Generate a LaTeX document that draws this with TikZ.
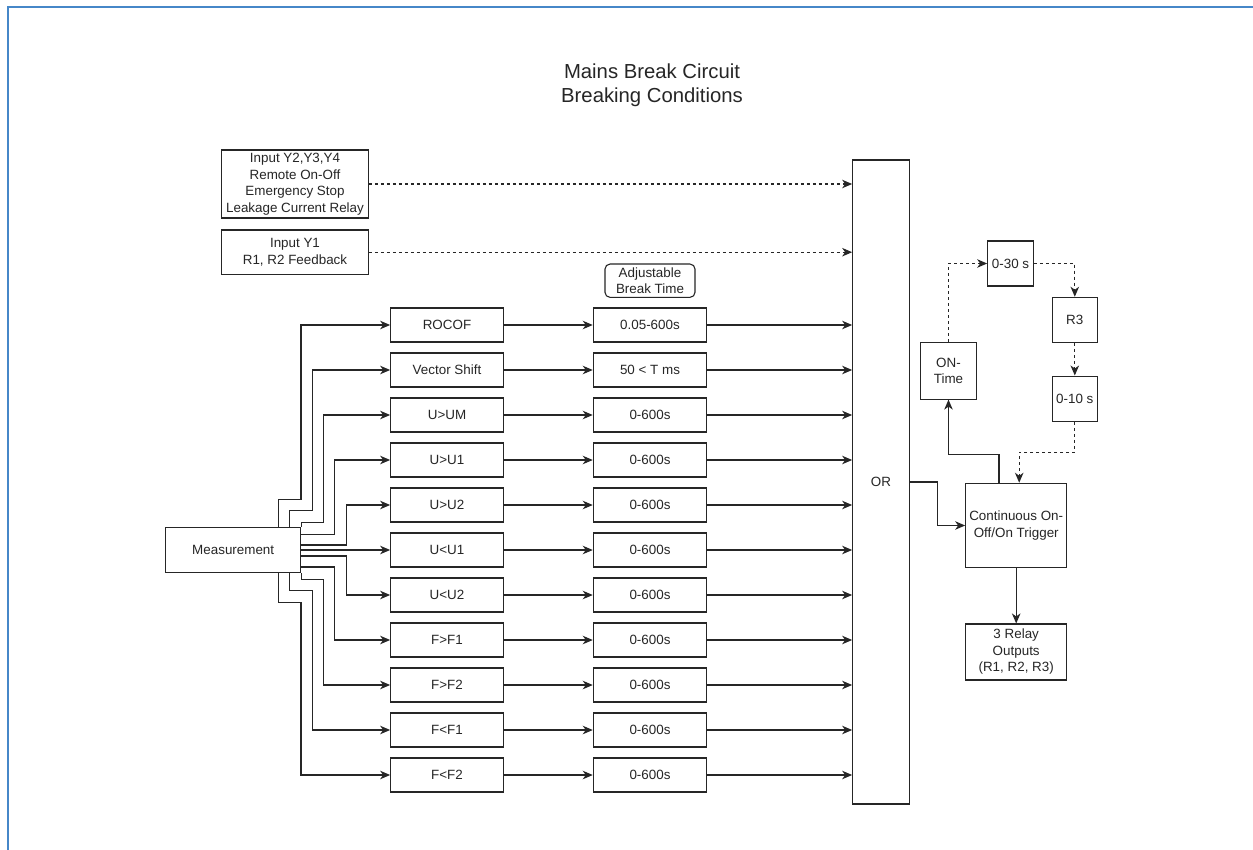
\documentclass[tikz,border=0pt]{standalone}
\usepackage{fontspec}
\setmainfont{Liberation Sans}
\usetikzlibrary{arrows.meta}
\newcommand\mybody{\fontsize{13.4}{16.5}\selectfont}
\begin{document}
\begin{tikzpicture}[x=1pt,y=-1pt,
  box/.style={draw=black!85,line width=1.1pt,inner sep=0pt,align=center,text=black!85,font=\mybody},
  arr/.style={draw=black!85,line width=1.1pt,-{Stealth[length=10pt,width=8.5pt,inset=3pt]}},
  dsh/.style={dash pattern=on 3pt off 3pt},
  frame/.style={draw={rgb,255:red,70;green,135;blue,200},line width=2pt}]
\useasboundingbox (0,0) rectangle (1253,850);
\fill[white] (0,0) rectangle (1253,850);
\draw[frame] (7.5,850) -- (7.5,7.5) -- (1253,7.5);

% title
\node[align=center,text=black!85,font=\fontsize{20.3}{24}\selectfont] (title) at (652,85) {Mains Break Circuit\\Breaking Conditions};

% inputs
\node[box,minimum width=146.6pt,minimum height=68pt] (in2) at (295,184) {Input Y2,Y3,Y4\\Remote On-Off\\Emergency Stop\\Leakage Current Relay};
\node[box,minimum width=146.6pt,minimum height=44.3pt] (in1) at (295,252.2) {Input Y1\\R1, R2 Feedback};

% OR
\node[box,minimum width=56.6pt,minimum height=644pt] (or) at (881,482) {OR};

% adjustable label
\node[box,rounded corners=5pt,minimum width=90pt,minimum height=33.3pt] (adj) at (650,280.7) {Adjustable\\Break Time};

% measurement
\node[box,minimum width=135pt,minimum height=45pt] (m) at (233.2,550) {Measurement};

% rows
\foreach \i/\a/\b in {1/ROCOF/0.05-600s, 2/Vector Shift/50 < T ms, 3/U>UM/0-600s, 4/U>U1/0-600s,
  5/U>U2/0-600s, 6/U<U1/0-600s, 7/U<U2/0-600s, 8/F>F1/0-600s, 9/F>F2/0-600s, 10/F<F1/0-600s, 11/F<F2/0-600s}{
  \node[box,minimum width=112.6pt,minimum height=34pt] (d\i) at (447,280+45*\i) {\a};
  \node[box,minimum width=113.4pt,minimum height=34pt] (t\i) at (650,280+45*\i) {\b};
}
\foreach \i in {1,...,11}{
  \draw[arr] (d\i) -- (t\i);
  \draw[arr] (t\i) -- (t\i -| or.west);
}

% inputs to OR
\draw[arr,dsh] (in2.east) -- (in2.east -| or.west);
\draw[arr,dsh] (in1.east) -- (in1.east -| or.west);

% measurement to detectors
\draw[arr] ([xshift=45.1pt]m.north) -- ++(0,-27.5) -- ++(22.7,0) |- (d1.west);
\draw[arr] ([xshift=56.1pt]m.north) -- ++(0,-16.2) -- ++(23,0) |- (d2.west);
\draw[arr] (m.north east) -- ++(0,-4.8) -- ++(22.6,0) |- (d3.west);
\draw[arr] ([yshift=15.7pt]m.east) -- ++(33.6,0) |- (d4.west);
\draw[arr] ([yshift=5pt]m.east) -- ++(45,0) |- (d5.west);
\draw[arr] (m.east) -- (d6.west);
\draw[arr] ([yshift=-6pt]m.east) -- ++(45,0) |- (d7.west);
\draw[arr] ([yshift=-17pt]m.east) -- ++(33.6,0) |- (d8.west);
\draw[arr] (m.south east) -- ++(0,6.5) -- ++(22.6,0) |- (d9.west);
\draw[arr] ([xshift=56.1pt]m.south) -- ++(0,17.5) -- ++(23,0) |- (d10.west);
\draw[arr] ([xshift=45.1pt]m.south) -- ++(0,29.2) -- ++(22.7,0) |- (d11.west);

% right part
\node[box,minimum width=45.6pt,minimum height=45pt] (t30) at (1010.5,263.5) {0-30 s};
\node[box,minimum width=45pt,minimum height=45pt] (r3) at (1074.8,319.8) {R3};
\node[box,minimum width=45pt,minimum height=45.3pt] (t10) at (1074.8,398.7) {0-10 s};
\node[box,minimum width=56.4pt,minimum height=56.7pt] (ont) at (948.5,370.7) {ON-\\Time};
\node[box,minimum width=101pt,minimum height=84.4pt] (cont) at (1016.2,525.5) {Continuous On-\\Off/On Trigger};
\node[box,minimum width=101pt,minimum height=56pt] (rel) at (1016.2,652) {3 Relay\\Outputs\\(R1, R2, R3)};

\draw[arr] (or.east) -- ++(28,0) |- (cont.west);
\draw[arr] ([xshift=-17.2pt]cont.north) -- ++(0,-28.3) -| (ont.south);
\draw[arr] (cont.south) -- (rel.north);
\draw[arr,dsh] (ont.north) |- (t30.west);
\draw[arr,dsh] (t30.east) -| (r3.north);
\draw[arr,dsh] (r3.south) -- (t10.north);
\draw[arr,dsh] (t10.south) -- ++(0,30.4) -| ([xshift=3pt]cont.north);
\end{tikzpicture}
\end{document}
